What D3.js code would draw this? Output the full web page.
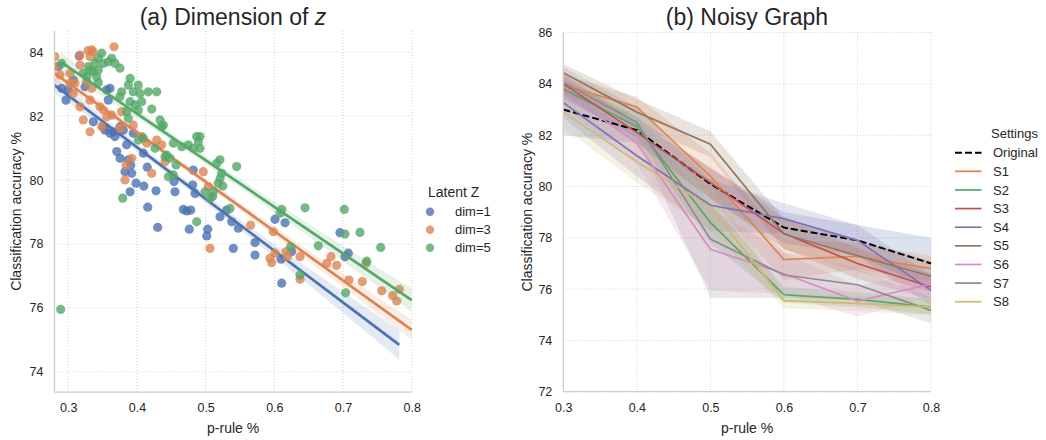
<!DOCTYPE html>
<html><head><meta charset="utf-8">
<script src="https://cdn.jsdelivr.net/npm/d3@7"></script>
<style>
body{margin:0;background:#fff}
text{font-family:"Liberation Sans",Arial,Helvetica,sans-serif;fill:#262626}
</style>
</head><body>
<svg id="c" width="1046" height="440"></svg>
<script>
// ---------- data: panel (a) ----------
const dimLabels = ["dim=1", "dim=3", "dim=5"];
const dimColors = ["#4C72B0", "#DD8452", "#55A868"];
const dim1X = [0.316,0.2855,0.2905,0.2967,0.300,0.3074,0.3244,0.356,0.3608,0.3365,0.351,0.3535,0.3608,0.3656,0.3754,0.368,0.385,0.3706,0.3754,0.3874,0.415,0.3826,0.3924,0.482,0.39,0.3987,0.41,0.4278,0.4157,0.4302,0.4554,0.454,0.4675,0.4724,0.4783,0.4762,0.503,0.5016,0.4812,0.4845,0.391,0.4093,0.521,0.5307,0.538,0.5476,0.5403,0.5719,0.5719,0.601,0.6156,0.6097,0.6108,0.6253,0.6956,0.7029,0.7077,0.3583,0.3802,0.3947];
const dim1Y = [83.88,83.55,82.87,82.50,82.82,83.13,82.92,82.82,82.87,81.82,81.67,81.56,81.46,81.51,81.67,81.36,81.10,80.89,80.68,80.63,80.40,80.26,80.21,80.31,79.63,79.90,79.81,79.66,79.15,78.52,79.63,79.95,79.08,79.03,79.06,78.46,78.46,78.25,79.84,79.58,80.47,80.84,78.85,79.06,78.69,78.49,77.86,78.04,77.65,78.77,78.66,77.52,76.77,77.76,78.35,77.60,77.71,82.50,81.56,81.46];
const dim3X = [0.3667,0.3342,0.336,0.3288,0.3171,0.2807,0.2807,0.3171,0.3317,0.3026,0.288,0.3098,0.3074,0.3269,0.3171,0.3219,0.3462,0.351,0.3317,0.3487,0.356,0.3633,0.3754,0.3778,0.4069,0.4142,0.4288,0.4361,0.3841,0.3924,0.4215,0.4409,0.4966,0.3826,0.5064,0.5039,0.5656,0.5985,0.5937,0.5962,0.601,0.617,0.6189,0.6374,0.6374,0.6763,0.6825,0.6908,0.7087,0.7281,0.7335,0.7563,0.7723,0.7782,0.782,0.3947,0.3317,0.3342,0.3026];
const dim3Y = [84.17,84.07,84.02,84.05,83.91,83.86,83.55,83.60,83.86,83.34,83.29,83.03,82.71,83.08,82.29,81.88,82.29,82.19,81.51,81.67,81.98,82.03,81.62,82.14,81.36,81.15,81.25,81.10,80.47,80.68,80.21,80.57,80.26,80.00,77.86,79.79,78.59,78.38,77.55,77.41,77.71,77.76,77.60,77.60,76.89,77.39,77.60,77.33,76.87,76.82,77.39,76.53,76.38,76.21,76.58,81.72,82.50,82.87,83.03];
const dim5X = [0.3487,0.3438,0.339,0.351,0.3583,0.3633,0.3681,0.3754,0.3292,0.3317,0.3365,0.3219,0.3269,0.3414,0.3438,0.2905,0.39,0.3874,0.402,0.3947,0.4045,0.4166,0.4288,0.3778,0.3754,0.39,0.3972,0.4069,0.402,0.4215,0.3438,0.3874,0.3851,0.402,0.4093,0.4336,0.4361,0.4384,0.4263,0.4409,0.4433,0.4481,0.487,0.4893,0.4748,0.4821,0.453,0.4652,0.5161,0.5209,0.5452,0.4457,0.453,0.3793,0.289,0.487,0.4569,0.4991,0.5103,0.4918,0.4918,0.5234,0.521,0.5184,0.5249,0.5112,0.5064,0.5355,0.6108,0.6083,0.6447,0.7019,0.7029,0.7247,0.664,0.6238,0.6374,0.7345,0.7549,0.7039];
const dim5Y = [83.97,83.81,83.65,83.65,83.70,83.81,83.65,83.50,83.55,83.44,83.39,83.34,83.23,83.23,83.44,83.65,83.18,82.97,82.97,82.76,82.71,82.76,82.76,82.76,82.61,82.45,82.35,82.45,82.19,82.22,83.05,81.93,82.14,81.25,81.31,81.88,81.67,81.72,80.99,80.73,80.78,80.68,81.36,81.20,81.10,80.99,81.15,81.04,80.52,80.63,80.42,80.10,80.16,79.43,75.95,78.69,80.47,79.63,79.48,81.36,80.99,80.21,80.05,79.90,79.81,79.63,79.43,79.11,79.08,78.96,79.13,79.08,78.31,78.36,77.94,77.91,77.03,77.46,77.89,76.47];
// fitted regression lines (start/end in data units) and CI half-widths
const fitX0 = [0.28, 0.28, 0.289];
const fitY0 = [82.97, 83.34, 83.70];
const fitX1 = [0.782, 0.80, 0.80];
const fitY1 = [74.84, 75.31, 76.24];
const fitCiStart = [0.25, 0.25, 0.3];
const fitCiMid = [0.12, 0.1, 0.12];
const fitCiEnd = [0.47, 0.32, 0.36];
const fitMeanX = [0.43, 0.45, 0.45];
const aXTicks = [0.3, 0.4, 0.5, 0.6, 0.7, 0.8];
const aYTicks = [74, 76, 78, 80, 82, 84];

// ---------- data: panel (b) ----------
const pRule = [0.3, 0.4, 0.5, 0.6, 0.7, 0.8];
const settingNames = ["Original","S1","S2","S3","S4","S5","S6","S7","S8"];
const settingColors = ["#000000","#DD8452","#55A868","#C44E52","#8172B3","#937860","#DA8BC3","#8C8C8C","#CCB974"];
const bandColors = ["#4C72B0","#DD8452","#55A868","#C44E52","#8172B3","#937860","#DA8BC3","#8C8C8C","#CCB974"];
const accOriginal = [83.0, 82.2, 80.1, 78.4, 77.9, 77.0];
const accS1 = [83.95, 83.1, 80.4, 77.15, 77.28, 76.8];
const accS2 = [83.8, 82.34, 78.6, 75.78, 75.6, 75.3];
const accS3 = [84.0, 82.1, 80.15, 78.17, 77.0, 76.08];
const accS4 = [83.27, 81.2, 79.27, 78.75, 77.9, 75.95];
const accS5 = [84.43, 82.9, 81.65, 78.15, 77.3, 76.5];
const accS6 = [83.7, 81.69, 77.55, 76.6, 75.53, 76.2];
const accS7 = [84.05, 82.5, 77.95, 76.55, 76.17, 75.17];
const accS8 = [82.9, 80.96, 79.2, 75.55, 75.44, 75.3];
const ciOriginal = [1.0, 0.5, 0.6, 0.6, 0.6, 1.0];
const ciS1 = [0.4, 0.4, 0.9, 0.8, 0.5, 0.5];
const ciS2 = [0.4, 0.4, 0.8, 0.3, 0.3, 0.3];
const ciS3 = [0.4, 0.4, 0.6, 0.6, 0.6, 0.5];
const ciS4 = [0.6, 0.8, 1.0, 0.6, 0.6, 0.6];
const ciS5 = [0.35, 0.5, 0.5, 0.6, 0.6, 0.6];
const ciS6 = [0.6, 0.8, 1.6, 0.8, 0.6, 0.5];
const ciS7 = [0.6, 0.6, 2.3, 0.9, 0.6, 0.5];
const ciS8 = [0.6, 0.8, 0.9, 0.3, 0.3, 0.3];
const bXTicks = [0.3, 0.4, 0.5, 0.6, 0.7, 0.8];
const bYTicks = [72, 74, 76, 78, 80, 82, 84, 86];

// ---------- drawing ----------
const svg = d3.select("#c");
svg.append("rect").attr("width",1046).attr("height",440).attr("fill","#fff");
const gridColor = "#cfcfcf", spineColor = "#cccccc";

function drawFrame(x, y, xt, yt, top, bottom, left, right, title, titleX, ylabelX) {
  const g = svg.append("g");
  // grid
  g.selectAll(".vg").data(xt).join("line")
    .attr("x1", d=>x(d)).attr("x2", d=>x(d)).attr("y1", top).attr("y2", bottom)
    .attr("stroke", gridColor).attr("stroke-width",1).attr("stroke-dasharray","1,2");
  g.selectAll(".hg").data(yt).join("line")
    .attr("y1", d=>y(d)).attr("y2", d=>y(d)).attr("x1", left).attr("x2", right)
    .attr("stroke", gridColor).attr("stroke-width",1).attr("stroke-dasharray","1,2");
  // axes (labels only)
  const ax = svg.append("g").attr("transform",`translate(0,${bottom})`)
    .call(d3.axisBottom(x).tickValues(xt).tickSize(0).tickPadding(11.5).tickFormat(d3.format(".1f")));
  ax.select(".domain").remove();
  ax.selectAll("text").attr("font-size",12.5).attr("font-family",null).attr("fill","#262626");
  const ay = svg.append("g").attr("transform",`translate(${left},0)`)
    .call(d3.axisLeft(y).tickValues(yt).tickSize(0).tickPadding(11).tickFormat(d3.format("d")));
  ay.select(".domain").remove();
  ay.selectAll("text").attr("font-size",12.5).attr("font-family",null).attr("fill","#262626");
  // labels
  svg.append("text").attr("x",(left+right)/2).attr("y",433).attr("text-anchor","middle")
    .attr("font-size",14).text("p-rule %");
  svg.append("text").attr("transform",`translate(${ylabelX},${(top+bottom)/2}) rotate(-90)`)
    .attr("text-anchor","middle").attr("font-size",14).text("Classification accuracy %");
  return g;
}
function spines(left, right, top, bottom) {
  svg.append("line").attr("x1",left).attr("x2",left).attr("y1",top).attr("y2",bottom)
    .attr("stroke",spineColor).attr("stroke-width",1.25);
  svg.append("line").attr("x1",left).attr("x2",right).attr("y1",bottom).attr("y2",bottom)
    .attr("stroke",spineColor).attr("stroke-width",1.25);
}

// ===== Panel (a) =====
const xA = d3.scaleLinear().domain([0.28, 0.80]).range([54.5, 411.7]);
const yA = d3.scaleLinear().domain([74, 84]).range([371.7, 52.2]);
const aTop = 31, aBottom = 392;
drawFrame(xA, yA, aXTicks, aYTicks, aTop, aBottom, 54.5, 411.7, null, 0, 20.5);

const titleA = svg.append("text").attr("x",233).attr("y",25).attr("text-anchor","middle").attr("font-size",23);
titleA.append("tspan").text("(a) Dimension of ");
titleA.append("tspan").attr("font-style","italic").text("z");

const dimX = [dim1X, dim3X, dim5X], dimY = [dim1Y, dim3Y, dim5Y];
const clipA = svg.append("defs").append("clipPath").attr("id","clipA").append("rect")
  .attr("x",54.5).attr("y",aTop).attr("width",411.7-54.5+2).attr("height",aBottom-aTop);
const plotA = svg.append("g").attr("clip-path","url(#clipA)");
for (let k = 0; k < 3; k++) {
  const pts = dimX[k].map((v,i)=>({x:v, y:dimY[k][i]}));
  plotA.append("g").selectAll("circle").data(pts).join("circle")
    .attr("cx", d=>xA(d.x)).attr("cy", d=>yA(d.y)).attr("r",4.6)
    .attr("fill", dimColors[k]).attr("fill-opacity",0.8);
  // regression line + CI band
  const x0 = fitX0[k], x1 = fitX1[k], y0 = fitY0[k], y1 = fitY1[k], xm = fitMeanX[k];
  const slope = (y1-y0)/(x1-x0);
  const xs = d3.range(0, 51).map(i => x0 + (x1-x0)*i/50);
  const half = xv => xv < xm
    ? fitCiMid[k] + (fitCiStart[k]-fitCiMid[k]) * Math.pow((xm-xv)/(xm-x0),2)
    : fitCiMid[k] + (fitCiEnd[k]-fitCiMid[k]) * Math.pow((xv-xm)/(x1-xm),2);
  const band = xs.map(xv => ({x:xv, lo: y0+slope*(xv-x0)-half(xv), hi: y0+slope*(xv-x0)+half(xv)}));
  plotA.append("path").datum(band)
    .attr("d", d3.area().x(d=>xA(d.x)).y0(d=>yA(d.lo)).y1(d=>yA(d.hi)))
    .attr("fill", dimColors[k]).attr("fill-opacity",0.15);
  plotA.append("line").attr("x1",xA(x0)).attr("y1",yA(y0)).attr("x2",xA(x1)).attr("y2",yA(y1))
    .attr("stroke", dimColors[k]).attr("stroke-width",2.7);
}
spines(54.5, 411.7, aTop, aBottom);

// legend (a)
const legA = svg.append("g");
legA.append("text").attr("x",428).attr("y",196.5).attr("font-size",14).text("Latent Z");
dimLabels.forEach((lab,i)=>{
  const yy = 211.7 + i*18;
  legA.append("circle").attr("cx",430).attr("cy",yy).attr("r",4.2)
    .attr("fill",dimColors[i]).attr("fill-opacity",0.8);
  legA.append("text").attr("x",455).attr("y",yy+4.6).attr("font-size",13).text(lab);
});

// ===== Panel (b) =====
const xB = d3.scaleLinear().domain([0.3, 0.8]).range([563.3, 931]);
const yB = d3.scaleLinear().domain([72, 86]).range([391.7, 32.6]);
drawFrame(xB, yB, bXTicks, bYTicks, 32.6, 391.7, 563.3, 931, null, 0, 531.5);
svg.append("text").attr("x",747).attr("y",25).attr("text-anchor","middle").attr("font-size",23).text("(b) Noisy Graph");

const accs = [accOriginal, accS1, accS2, accS3, accS4, accS5, accS6, accS7, accS8];
const cis = [ciOriginal, ciS1, ciS2, ciS3, ciS4, ciS5, ciS6, ciS7, ciS8];
const plotB = svg.append("g");
accs.forEach((arr, k) => {
  const rows = pRule.map((p,i)=>({x:p, y:arr[i], lo:arr[i]-cis[k][i], hi:arr[i]+cis[k][i]}));
  plotB.append("path").datum(rows)
    .attr("d", d3.area().x(d=>xB(d.x)).y0(d=>yB(d.lo)).y1(d=>yB(d.hi)))
    .attr("fill", bandColors[k]).attr("fill-opacity",0.2);
});
accs.forEach((arr, k) => {
  const rows = pRule.map((p,i)=>({x:p, y:arr[i]}));
  const path = plotB.append("path").datum(rows)
    .attr("d", d3.line().x(d=>xB(d.x)).y(d=>yB(d.y)))
    .attr("fill","none").attr("stroke", settingColors[k])
    .attr("stroke-width", k===0 ? 2 : 1.7);
  if (k===0) path.attr("stroke-dasharray","7,3");
});
spines(563.3, 931, 32.6, 391.7);

// legend (b)
const legB = svg.append("g");
legB.append("text").attr("x",991).attr("y",137.5).attr("font-size",13).text("Settings");
settingNames.forEach((name,i)=>{
  const yy = 152.7 + i*18.63;
  const ln = legB.append("line").attr("x1",955).attr("x2",981.5).attr("y1",yy).attr("y2",yy)
    .attr("stroke",settingColors[i]).attr("stroke-width", i===0 ? 2 : 1.7);
  if (i===0) ln.attr("stroke-dasharray","7,3");
  legB.append("text").attr("x",993).attr("y",yy+4.6).attr("font-size",13).text(name);
});
</script>
</body></html>
